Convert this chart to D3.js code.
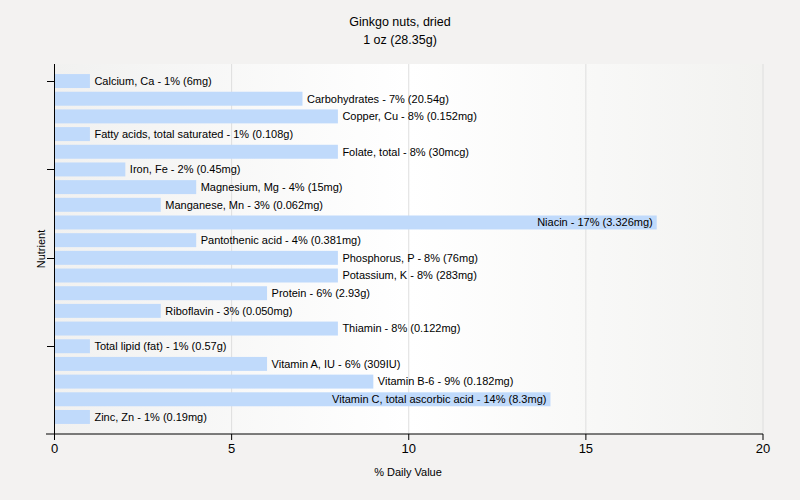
<!DOCTYPE html>
<html><head><meta charset="utf-8">
<script src="https://cdn.jsdelivr.net/npm/d3@7"></script>
<style>
html,body{margin:0;padding:0;background:#f3f2f1;}
svg{display:block;}
text{font-family:"Liberation Sans",Arial,sans-serif;fill:#000;}
</style></head>
<body>
<svg id="c" width="800" height="500"></svg>
<script>
const titleLines = ["Ginkgo nuts, dried", "1 oz (28.35g)"];
const nutrients = ["Calcium, Ca","Carbohydrates","Copper, Cu","Fatty acids, total saturated","Folate, total","Iron, Fe","Magnesium, Mg","Manganese, Mn","Niacin","Pantothenic acid","Phosphorus, P","Potassium, K","Protein","Riboflavin","Thiamin","Total lipid (fat)","Vitamin A, IU","Vitamin B-6","Vitamin C, total ascorbic acid","Zinc, Zn"];
const percents = [1,7,8,1,8,2,4,3,17,4,8,8,6,3,8,1,6,9,14,1];
const amounts = ["6mg","20.54g","0.152mg","0.108g","30mcg","0.45mg","15mg","0.062mg","3.326mg","0.381mg","76mg","283mg","2.93g","0.050mg","0.122mg","0.57g","309IU","0.182mg","8.3mg","0.19mg"];
const xTicks = [0,5,10,15,20];
const yTickIdx = [0,5,10,15];
const xLabel = "% Daily Value";
const yLabel = "Nutrient";

const svg = d3.select("#c");
const L = 54.5, R = 763, T = 64, B = 434;
const x = d3.scaleLinear().domain([0,20]).range([L,R]);
const y = d3.scaleBand().domain(nutrients).range([T+8.2, B-8.2]).paddingInner(0.21).paddingOuter(0.105);

// background gradient
const defs = svg.append("defs");
const g = defs.append("linearGradient").attr("id","bg").attr("x1","0").attr("x2","1").attr("y1","0").attr("y2","0");
g.append("stop").attr("offset","0").attr("stop-color","#f1f1f0");
g.append("stop").attr("offset","0.5").attr("stop-color","#ffffff");
g.append("stop").attr("offset","1").attr("stop-color","#f2f2f0");
svg.append("rect").attr("x",L).attr("y",T).attr("width",R-L).attr("height",B-T).attr("fill","url(#bg)");

// grid
svg.append("g").selectAll("line").data(xTicks.filter(d=>d>0)).join("line")
  .attr("x1",d=>x(d)).attr("x2",d=>x(d)).attr("y1",T).attr("y2",B)
  .attr("stroke","#dedede").attr("stroke-width",1);

// bars
svg.append("g").selectAll("rect").data(nutrients).join("rect")
  .attr("x",L).attr("y",d=>y(d)).attr("height",y.bandwidth())
  .attr("width",(d,i)=>x(percents[i])-L).attr("fill","#c0dafb");

// labels
const lab = svg.append("g").selectAll("text").data(nutrients).join("text")
  .attr("font-size","11px")
  .attr("y",d=>y(d)+y.bandwidth()/2).attr("dy","0.35em")
  .text((d,i)=>`${d} - ${percents[i]}% (${amounts[i]})`);
lab.each(function(d,i){
  const w = this.getComputedTextLength();
  const end = x(percents[i]);
  if (end + 5 + w > R) {
    d3.select(this).attr("x", end - 4).attr("text-anchor","end");
  } else {
    d3.select(this).attr("x", end + 4.5).attr("text-anchor","start");
  }
});

// axes
svg.append("line").attr("x1",L).attr("x2",L).attr("y1",T).attr("y2",B).attr("stroke","#000");
svg.append("line").attr("x1",46).attr("x2",R).attr("y1",B).attr("y2",B).attr("stroke","#000");
svg.append("g").selectAll("line").data(yTickIdx).join("line")
  .attr("x1",47).attr("x2",L).attr("y1",i=>Math.round(y(nutrients[i])+y.bandwidth()/2)+0.5).attr("y2",i=>Math.round(y(nutrients[i])+y.bandwidth()/2)+0.5)
  .attr("stroke","#000");
svg.append("g").selectAll("line").data(xTicks).join("line")
  .attr("x1",d=>x(d)).attr("x2",d=>x(d)).attr("y1",B).attr("y2",B+6).attr("stroke","#000");
svg.append("g").selectAll("text").data(xTicks).join("text")
  .attr("x",d=>x(d)).attr("y",453).attr("text-anchor","middle").attr("font-size","13px")
  .text(d=>d);

svg.append("text").attr("x",408).attr("y",476).attr("text-anchor","middle").attr("font-size","11px").text(xLabel);
svg.append("text").attr("transform","translate(45,249) rotate(-90)").attr("text-anchor","middle").attr("font-size","11px").text(yLabel);

svg.append("g").selectAll("text").data(titleLines).join("text")
  .attr("x",400).attr("y",(d,i)=>26+i*18).attr("text-anchor","middle").attr("font-size","12.5px").text(d=>d);
</script>
</body></html>
